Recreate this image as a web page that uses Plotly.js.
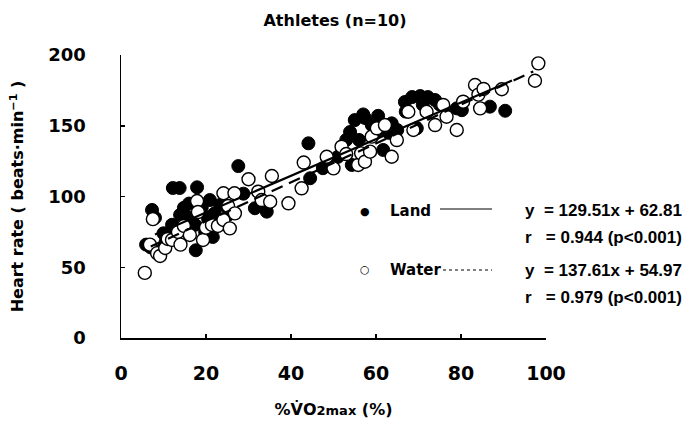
<!DOCTYPE html>
<html>
<head>
<meta charset="utf-8">
<script src="https://cdn.plot.ly/plotly-3.0.1.min.js"></script>
<style>html,body{margin:0;padding:0;background:#fff;}#chart{width:685px;height:427px;}</style>
</head>
<body>
<div id="chart"></div>
<script>
// %VO2max (x) and heart rate (y), Land = filled, Water = open
const landX = [5.9, 7.0, 7.3, 8.0, 9.5, 10.0, 10.5, 11.5, 12.0, 12.2, 13.8, 13.9, 14.8, 15.5, 16.0, 16.5, 17.4, 17.6, 17.9, 18.6, 19.0, 19.8, 20.5, 20.9, 21.6, 22.0, 22.8, 23.3, 24.0, 25.2, 27.6, 28.8, 31.5, 34.3, 44.1, 44.5, 47.5, 49.2, 51.0, 53.0, 53.9, 54.3, 55.0, 56.0, 57.0, 57.4, 59.0, 60.0, 60.5, 61.7, 63.0, 63.7, 65.0, 66.8, 67.0, 68.5, 69.6, 70.4, 71.0, 72.2, 73.9, 75.0, 79.0, 80.2, 86.8, 90.4];
const landY = [66, 64, 90.5, 85, 62, 74, 68, 72, 80, 106, 106, 87, 92, 78, 95, 85, 80, 62, 106.5, 90.5, 92, 75, 84, 97.5, 71.4, 88, 83.4, 94, 82, 87, 121.5, 102, 91.7, 89.3, 137.6, 112.9, 120, 124.6, 128, 140, 145.6, 122.3, 154, 140, 158, 155.5, 150.5, 145, 157, 132.9, 145, 151.7, 147, 166.8, 160, 170.3, 148.2, 171, 165, 170.3, 168.2, 165, 162.3, 161, 163.5, 160.6];
const waterX = [5.6, 6.8, 7.5, 8.5, 9.2, 10.4, 11.0, 12.0, 13.4, 14.0, 14.8, 16.2, 17.9, 18.1, 19.3, 20.0, 21.4, 22.8, 24.1, 24.1, 25.2, 25.6, 26.7, 26.8, 30.0, 32.3, 33.1, 35.1, 35.5, 39.4, 42.5, 43.0, 48.4, 50.0, 51.9, 53.0, 55.8, 56.5, 57.4, 58.6, 59.0, 60.2, 62.1, 63.7, 64.9, 67.6, 68.8, 71.9, 73.9, 75.8, 76.6, 79.0, 80.5, 83.3, 84.1, 85.3, 84.5, 89.6, 97.4, 98.2];
const waterY = [46, 66, 84, 60, 58, 63.6, 70, 69.3, 74.9, 66, 79.2, 72.8, 96.8, 89, 69.3, 78, 79.9, 79.2, 83.4, 102.3, 93.3, 77.5, 102.3, 88.1, 112.2, 103.4, 97.5, 96.3, 114.5, 95.2, 105.8, 124, 128.1, 119.9, 135.2, 130, 122.3, 130.5, 124.6, 131.7, 142.3, 148.2, 150.5, 128.1, 139.9, 159.9, 147, 159.9, 150.5, 164.7, 156.4, 147, 167, 178.8, 172, 176, 162.3, 175.8, 181.8, 194.1];
// regression line end points
const landLineX = [8, 92];
const landLineY = [73.2, 182.0];
const waterLineX = [7, 97];
const waterLineY = [64.6, 188.4];
const xTicks = [0, 20, 40, 60, 80, 100];
const yTicks = [0, 50, 100, 150, 200];

const F = 'DejaVu Sans, Arial, sans-serif';
const L = 'Liberation Sans, Arial, sans-serif';
const traces = [
  {x: landX, y: landY, type: 'scatter', mode: 'markers', name: 'Land',
   marker: {size: 13, color: '#000', line: {color: '#000', width: 1}}},
  {x: waterX, y: waterY, type: 'scatter', mode: 'markers', name: 'Water',
   marker: {size: 13, color: '#fff', line: {color: '#000', width: 1.4}}},
  {x: landLineX, y: landLineY, type: 'scatter', mode: 'lines', name: 'Land fit',
   line: {color: '#000', width: 2.2}},
  {x: waterLineX, y: waterLineY, type: 'scatter', mode: 'lines', name: 'Water fit',
   line: {color: '#000', width: 2.2, dash: '12px,7px'}}
];

function px(x){return (x-121)/425;}
function py(y){return (338-y)/283;}
const tf = {family: F, size: 15, color: '#000', weight: 'bold'};
const ef = {family: L, size: 17, color: '#000', weight: 'bold'};
const ann = [
  {text: '●', x: px(365), y: py(212), font: {family: F, size: 11, color: '#000'}},
  {text: '<b>Land</b>', x: px(388), y: py(211), xanchor: 'left'},
  {text: '<b>y  = 129.51x + 62.81</b>', x: px(523), y: py(211), xanchor: 'left', font: ef},
  {text: '<b>r   = 0.944 (p&lt;0.001)</b>', x: px(523), y: py(237), xanchor: 'left', font: ef},
  {text: '○', x: px(365), y: py(269), font: {family: F, size: 11, color: '#000'}},
  {text: '<b>Water</b>', x: px(388), y: py(270), xanchor: 'left'},
  {text: '<b>y  = 137.61x + 54.97</b>', x: px(523), y: py(270), xanchor: 'left', font: ef},
  {text: '<b>r   = 0.979 (p&lt;0.001)</b>', x: px(523), y: py(297), xanchor: 'left', font: ef}
].map(a => Object.assign({xref: 'paper', yref: 'paper', showarrow: false, yanchor: 'middle', xanchor: 'center', font: tf}, a));

const shapes = [
  {type: 'line', xref: 'paper', yref: 'paper', x0: px(440), x1: px(492), y0: py(209), y1: py(209), line: {color: '#000', width: 1.2}},
  {type: 'line', xref: 'paper', yref: 'paper', x0: px(443), x1: px(492), y0: py(270), y1: py(270), line: {color: '#000', width: 1.2, dash: 'dot'}}
];

const layout = {
  width: 685, height: 427,
  margin: {l: 121, r: 139, t: 55, b: 89},
  paper_bgcolor: '#fff', plot_bgcolor: '#fff',
  showlegend: false,
  title: {text: '<b>Athletes (n=10)</b>', x: px(335), xref: 'paper', xanchor: 'center', y: 1 - 20/427, yref: 'container', yanchor: 'middle', font: {family: F, size: 16, color: '#000'}},
  xaxis: {range: [0, 100], tickvals: xTicks, ticktext: xTicks.map(String), showgrid: false, zeroline: false,
    showline: true, linecolor: '#000', linewidth: 1.5, ticks: 'inside', ticklen: 4, tickcolor: '#000', tickwidth: 1.5,
    ticklabelstandoff: 18, tickfont: {family: F, size: 19, color: '#000', weight: 'bold'},
    title: {text: '<b>%V̇O<span style="font-size:13px">2max</span> (%)</b>', standoff: 20, font: {family: F, size: 16, color: '#000'}}},
  yaxis: {range: [0, 200], tickvals: yTicks, ticktext: yTicks.map(String), showgrid: false, zeroline: false,
    showline: true, linecolor: '#000', linewidth: 1.5, ticks: 'inside', ticklen: 4, tickcolor: '#000', tickwidth: 1.5,
    ticklabelstandoff: 30, tickfont: {family: F, size: 18, color: '#000', weight: 'bold'},
    title: {text: '<b>Heart rate ( beats·min<sup>−1</sup> )</b>', standoff: 20, font: {family: F, size: 16, color: '#000'}}},
  annotations: ann,
  shapes: shapes
};
Plotly.newPlot('chart', traces, layout, {displayModeBar: false, staticPlot: true});
</script>
</body>
</html>
